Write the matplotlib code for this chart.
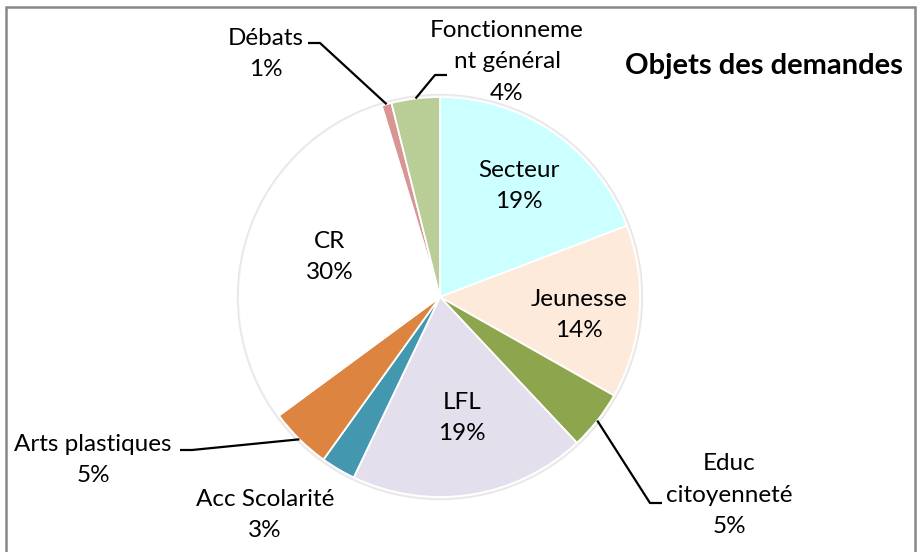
import matplotlib
matplotlib.use("Agg")
import matplotlib.pyplot as plt
import numpy as np
from matplotlib.patches import Rectangle, Circle

plt.rcParams['font.family'] = ['Lato', 'DejaVu Sans']

categories = ["Secteur", "Jeunesse", "Educ\ncitoyenneté", "LFL", "Acc Scolarité",
              "Arts plastiques", "CR", "Débats", "Fonctionneme\nnt général"]
values = [19.2, 14.0, 4.8, 19.1, 2.8, 5.0, 30.4, 0.8, 3.9]
colors = ["#CCFFFF", "#FDEADA", "#8DA64E", "#E4DFEC", "#4398AF",
          "#DC8440", "#FFFFFF", "#D99594", "#B9CD96"]
title = "Objets des demandes"

W, H = 921, 552
fig = plt.figure(figsize=(W/100, H/100), dpi=100)
ax = fig.add_axes([0, 0, 1, 1])
cx, cy, R = 440, 297, 200

def p(px, py):
    return ((px-cx)/R, (cy-py)/R)

# faint shadow rim
ax.add_patch(Circle((0, 0), 1.012, color="#E6E6E6", zorder=0))
ax.add_patch(Circle((0, 0), 1.006, color="#F0F0F0", zorder=0.5))

wedges, _ = ax.pie(values, colors=colors, startangle=90, counterclock=False,
                   radius=1, center=(0, 0),
                   wedgeprops=dict(edgecolor="white", linewidth=1.3))
for w in wedges:
    w.set_zorder(1)

ax.set_aspect('auto')
ax.set_xlim(-cx/R, (W-cx)/R)
ax.set_ylim((cy-H)/R, cy/R)
ax.axis('off')

total = sum(values)
pct = [f"{round(v/total*100):.0f}%" for v in values]
fs = 17.5
ls = 1.64

# label positions (pixel centers)
label_pos = {
    0: (519, 186),
    1: (579, 315),
    2: (729, 495),
    3: (462, 418),
    4: (265, 515),
    5: (93, 460),
    6: (330, 257),
    7: (266, 54),
    8: (507, 62),
}
for i, (px, py) in label_pos.items():
    x, y = p(px, py)
    ax.text(x, y, f"{categories[i]}\n{pct[i]}", ha='center', va='center',
            fontsize=fs, linespacing=ls, color="black", zorder=5)

def mid_point(i):
    w = wedges[i]
    ang = np.deg2rad((w.theta1 + w.theta2) / 2)
    return (np.cos(ang), np.sin(ang))

# leader lines: (index, elbow pixel, end pixel)
leaders = [
    (7, (320, 43), (308, 43)),
    (8, (435, 75), (447, 75)),
    (2, (650, 503), (662, 503)),
    (5, (192, 450), (180, 450)),
]
for i, el, en in leaders:
    a = mid_point(i)
    e1 = p(*el)
    e2 = p(*en)
    ax.plot([a[0], e1[0], e2[0]], [a[1], e1[1], e2[1]], color="black",
            lw=1.6, zorder=4, solid_capstyle='butt')

tx, ty = p(764, 66)
ax.text(tx, ty, title, ha='center', va='center', fontsize=21,
        fontweight='bold', zorder=5)

fig.patches.append(Rectangle((5.5/W, -0.05), (915-5.5)/W, 1.05 - 6.5/H,
                             transform=fig.transFigure, fill=False,
                             edgecolor="#888888", linewidth=1.8))
fig.savefig("out.png", dpi=100, facecolor="white")
